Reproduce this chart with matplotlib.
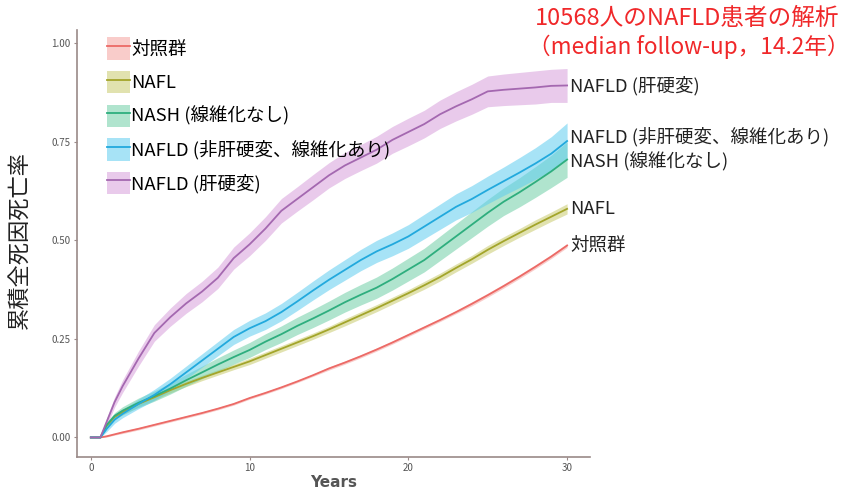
import numpy as np
import matplotlib
matplotlib.use("Agg")
import matplotlib.pyplot as plt
from matplotlib.patches import Patch
from matplotlib.lines import Line2D

plt.rcParams['font.family'] = ['Noto Sans CJK JP', 'DejaVu Sans']

# ========================
# ДАННЫЕ
# ========================
years = [0, 0.6, 1, 1.5, 2, 3, 4, 5, 6, 7, 8, 9, 10, 11, 12, 13, 14, 15,
         16, 17, 18, 19, 20, 21, 22, 23, 24, 25, 26, 27, 28, 29, 30]

groups = ['対照群', 'NAFL', 'NASH (線維化なし)',
          'NAFLD (非肝硬変、線維化あり)', 'NAFLD (肝硬変)']

control = [0, 0, 0.003, 0.008, 0.013, 0.022, 0.032, 0.042, 0.052, 0.062, 0.073, 0.085,
           0.100, 0.113, 0.127, 0.142, 0.158, 0.175, 0.190, 0.206, 0.223, 0.241,
           0.260, 0.279, 0.298, 0.318, 0.339, 0.361, 0.384, 0.408, 0.433, 0.459, 0.487]
nafl = [0, 0, 0.030, 0.052, 0.064, 0.085, 0.102, 0.120, 0.136, 0.151, 0.165, 0.179,
        0.193, 0.209, 0.225, 0.241, 0.257, 0.274, 0.292, 0.310, 0.328, 0.347,
        0.366, 0.386, 0.407, 0.430, 0.452, 0.476, 0.498, 0.519, 0.540, 0.560, 0.580]
nash = [0, 0, 0.032, 0.055, 0.068, 0.088, 0.105, 0.124, 0.145, 0.165, 0.185, 0.204,
        0.222, 0.243, 0.262, 0.283, 0.302, 0.322, 0.343, 0.362, 0.380, 0.402,
        0.426, 0.450, 0.480, 0.510, 0.540, 0.570, 0.598, 0.622, 0.648, 0.675, 0.705]
fibrosis = [0, 0, 0.022, 0.045, 0.060, 0.085, 0.108, 0.135, 0.165, 0.195, 0.225, 0.255,
            0.277, 0.295, 0.318, 0.345, 0.373, 0.400, 0.425, 0.450, 0.472, 0.490,
            0.510, 0.535, 0.560, 0.585, 0.605, 0.628, 0.650, 0.672, 0.695, 0.720, 0.752]
cirrhosis = [0, 0, 0.040, 0.090, 0.130, 0.200, 0.265, 0.305, 0.340, 0.370, 0.405, 0.455,
             0.490, 0.530, 0.575, 0.605, 0.635, 0.665, 0.690, 0.710, 0.730, 0.755,
             0.775, 0.795, 0.820, 0.840, 0.858, 0.878, 0.882, 0.885, 0.888, 0.892, 0.893]

# полуширина доверительного интервала
ci_control = [0, 0, 0.002, 0.002, 0.003, 0.003, 0.003, 0.003, 0.003, 0.003, 0.003, 0.003,
              0.003, 0.003, 0.003, 0.003, 0.003, 0.004, 0.004, 0.004, 0.004, 0.004,
              0.004, 0.004, 0.004, 0.004, 0.005, 0.005, 0.005, 0.005, 0.005, 0.005, 0.005]
ci_nafl = [0, 0, 0.005, 0.006, 0.007, 0.007, 0.007, 0.007, 0.007, 0.007, 0.007, 0.007,
           0.008, 0.008, 0.008, 0.008, 0.008, 0.008, 0.009, 0.009, 0.009, 0.009,
           0.009, 0.010, 0.010, 0.010, 0.010, 0.011, 0.011, 0.011, 0.012, 0.012, 0.013]
ci_nash = [0, 0, 0.007, 0.008, 0.010, 0.012, 0.013, 0.014, 0.015, 0.016, 0.017, 0.018,
           0.019, 0.020, 0.021, 0.022, 0.023, 0.024, 0.025, 0.026, 0.027, 0.028,
           0.029, 0.030, 0.031, 0.032, 0.033, 0.034, 0.035, 0.037, 0.039, 0.041, 0.045]
ci_fibrosis = [0, 0, 0.007, 0.009, 0.010, 0.012, 0.014, 0.015, 0.016, 0.017, 0.018, 0.019,
               0.020, 0.021, 0.022, 0.023, 0.024, 0.025, 0.026, 0.027, 0.028, 0.029,
               0.030, 0.031, 0.032, 0.033, 0.034, 0.035, 0.036, 0.038, 0.040, 0.043, 0.046]
ci_cirrhosis = [0, 0, 0.010, 0.013, 0.016, 0.019, 0.021, 0.023, 0.025, 0.026, 0.027, 0.028,
                0.029, 0.030, 0.031, 0.031, 0.032, 0.032, 0.033, 0.033, 0.034, 0.034,
                0.035, 0.035, 0.036, 0.037, 0.038, 0.039, 0.040, 0.041, 0.042, 0.042, 0.043]

title_lines = ['10568人のNAFLD患者の解析', '（median follow-up，14.2年）']

# ========================
# СТИЛЬ
# ========================
line_colors = ['#EC6A66', '#A3A52A', '#2EAE7E', '#22A9DD', '#A468B0']
band_colors = ['#F5A3A0', '#C9CB6E', '#6FCFA6', '#5FCDF0', '#D7A0DB']
AXIS_COLOR = '#9A8A88'
FONT_LABEL = 13.3

series = [control, nafl, nash, fibrosis, cirrhosis]
cis = [ci_control, ci_nafl, ci_nash, ci_fibrosis, ci_cirrhosis]
label_nudge = [0.0, 0.0, -0.005, 0.01, 0.0]

fig = plt.figure(figsize=(8.54, 4.90), dpi=100)
ax = fig.add_axes([0.090, 0.067, 0.601, 0.872])

t = np.array(years)
for vals, ci, lc, bc in zip(series, cis, line_colors, band_colors):
    v = np.array(vals)
    c = np.array(ci)
    ax.fill_between(t, v - c, v + c, color=bc, alpha=0.55, linewidth=0)
    ax.plot(t, v, color=lc, linewidth=1.3)

# подписи справа
for name, vals, dy in zip(groups, series, label_nudge):
    ax.text(30.2, vals[-1] + dy, name, fontsize=FONT_LABEL, va='center', ha='left',
            color='#222222', clip_on=False)

ax.set_xlim(-0.88, 31.45)
ax.set_ylim(-0.05, 1.034)
ax.set_xticks([0, 10, 20, 30])
ax.set_yticks([0, 0.25, 0.5, 0.75, 1.0])
ax.set_yticklabels(['0.00', '0.25', '0.50', '0.75', '1.00'])
ax.tick_params(labelsize=7, colors='#555555', length=2.5, color=AXIS_COLOR, pad=2)
for s in ['top', 'right']:
    ax.spines[s].set_visible(False)
for s in ['left', 'bottom']:
    ax.spines[s].set_color(AXIS_COLOR)
    ax.spines[s].set_linewidth(1.2)

ax.set_xlabel('Years', fontsize=11, color='#555555', fontweight='bold', labelpad=1,
              family=['DejaVu Sans'])
fig.text(0.022, 0.51, '累積全死因死亡率', rotation=90, fontsize=16,
         va='center', ha='center', color='#222222')

# легенда
handles = [(Patch(facecolor=bc, alpha=0.55, edgecolor='none'),
            Line2D([], [], color=lc, linewidth=1.3))
           for lc, bc in zip(line_colors, band_colors)]
leg = ax.legend(handles, groups, loc='upper left', bbox_to_anchor=(0.045, 1.0),
                frameon=False, fontsize=FONT_LABEL, handlelength=1.2, handleheight=1.5,
                handletextpad=0.1, labelspacing=0.6, borderaxespad=0)

# заголовок
fig.text(0.805, 0.963, title_lines[0], fontsize=17, color='#F0282A',
         ha='center', va='center')
fig.text(0.806, 0.905, title_lines[1], fontsize=16.3, color='#F0282A',
         ha='center', va='center')

plt.savefig('out.png', dpi=100)
plt.close()
